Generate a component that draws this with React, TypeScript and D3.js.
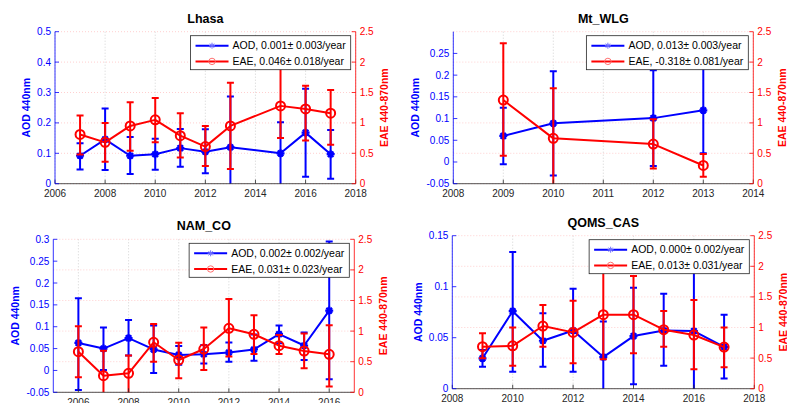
import { useEffect, useRef } from "react";
import * as d3 from "d3";

const FONT = "'Liberation Sans', Arial, Helvetica, sans-serif";
const BLUE = "#0000ff";
const RED = "#ff0000";
const DARK = "#262626";

const eaeTicks = [0, 0.5, 1, 1.5, 2, 2.5];

// Lhasa
const lhasaYears = [2007, 2008, 2009, 2010, 2011, 2012, 2013, 2015, 2016, 2017];
const lhasaAod = [0.092, 0.146, 0.092, 0.097, 0.117, 0.105, 0.12, 0.1, 0.168, 0.097];
const lhasaAodLo = [0.047, 0.045, 0.032, 0.046, 0.056, 0.034, -0.05, -0.005, 0.023, 0.016];
const lhasaAodHi = [0.133, 0.247, 0.154, 0.148, 0.18, 0.179, 0.287, 0.202, 0.312, 0.177];
const lhasaEae = [0.81, 0.68, 0.95, 1.05, 0.79, 0.61, 0.95, 1.28, 1.23, 1.16];
const lhasaEaeLo = [0.48, 0.36, 0.54, 0.68, 0.43, 0.29, 0.24, 0.75, 0.71, 0.64];
const lhasaEaeHi = [1.12, 1.0, 1.34, 1.41, 1.16, 0.95, 1.66, 1.95, 1.61, 1.54];
const lhasaXTicks = [2006, 2008, 2010, 2012, 2014, 2016, 2018];
const lhasaAodTicks = [0, 0.1, 0.2, 0.3, 0.4, 0.5];
const lhasaLegend = ["AOD, 0.001\u00b1 0.003/year", "EAE, 0.046\u00b1 0.018/year"];

// Mt_WLG
const wlgYears = [2009, 2010, 2012, 2013];
const wlgAod = [0.06, 0.089, 0.101, 0.119];
const wlgAodLo = [-0.005, -0.031, -0.009, 0.02];
const wlgAodHi = [0.125, 0.209, 0.211, 0.23];
const wlgEae = [1.376, 0.746, 0.652, 0.3];
const wlgEaeLo = [0.46, -0.1, 0.25, 0.115];
const wlgEaeHi = [2.31, 1.57, 1.06, 0.49];
const wlgXTicks = [2008, 2009, 2010, 2011, 2012, 2013, 2014];
const wlgAodTicks = [-0.05, 0, 0.05, 0.1, 0.15, 0.2, 0.25];
const wlgLegend = ["AOD, 0.013\u00b1 0.003/year", "EAE, -0.318\u00b1 0.081/year"];

// NAM_CO
const namYears = [2006, 2007, 2008, 2009, 2010, 2011, 2012, 2013, 2014, 2015, 2016];
const namAod = [0.063, 0.05, 0.074, 0.048, 0.0355, 0.037, 0.041, 0.048, 0.083, 0.057, 0.137];
const namAodLo = [-0.045, 0.001, 0.034, -0.006, 0.013, 0.016, 0.02, 0.022, 0.062, 0.024, -0.02];
const namAodHi = [0.165, 0.098, 0.1155, 0.103, 0.056, 0.058, 0.064, 0.082, 0.103, 0.087, 0.295];
const namEae = [0.664, 0.272, 0.31, 0.817, 0.528, 0.707, 1.046, 0.948, 0.762, 0.675, 0.62];
const namEaeLo = [0.245, -0.15, -0.02, 0.5, 0.229, 0.364, 0.583, 0.626, 0.626, 0.392, 0.093];
const namEaeHi = [1.078, 0.68, 0.6, 1.116, 0.81, 1.06, 1.525, 1.258, 0.937, 0.959, 1.095];
const namXTicks = [2006, 2008, 2010, 2012, 2014, 2016];
const namAodTicks = [-0.05, 0, 0.05, 0.1, 0.15, 0.2, 0.25, 0.3];
const namLegend = ["AOD, 0.002\u00b1 0.002/year", "EAE, 0.031\u00b1 0.023/year"];

// QOMS_CAS
const qomsYears = [2009, 2010, 2011, 2012, 2013, 2014, 2015, 2016, 2017];
const qomsAod = [0.0298, 0.076, 0.047, 0.057, 0.031, 0.0516, 0.057, 0.0565, 0.041];
const qomsAodLo = [0.0216, 0.0167, 0.0216, 0.0167, -0.004, 0.0043, 0.0225, -0.005, 0.0101];
const qomsAodHi = [0.038, 0.134, 0.074, 0.098, 0.066, 0.099, 0.093, 0.125, 0.0725];
const qomsEae = [0.686, 0.7, 1.024, 0.92, 1.21, 1.21, 0.964, 0.877, 0.68];
const qomsEaeLo = [0.497, 0.376, 0.686, 0.414, 0.48, 0.58, 0.686, 0.316, 0.35];
const qomsEaeHi = [0.905, 1.0, 1.367, 1.438, 1.95, 1.84, 1.27, 1.45, 1.0];
const qomsXTicks = [2008, 2010, 2012, 2014, 2016, 2018];
const qomsAodTicks = [0, 0.05, 0.1, 0.15];
const qomsLegend = ["AOD, 0.000\u00b1 0.002/year", "EAE, 0.013\u00b1 0.031/year"];

// where each axes box sits on the page
const boxes = [
  { left: 55, right: 355.7, top: 31.7, bottom: 183.7 },
  { left: 453.3, right: 753.3, top: 31.7, bottom: 183.7 },
  { left: 53.3, right: 354.3, top: 239.3, bottom: 392.3 },
  { left: 452.3, right: 754.3, top: 235.7, bottom: 388.7 },
];

const panels = [
  {
    title: "Lhasa", years: lhasaYears, aod: lhasaAod, aodLo: lhasaAodLo, aodHi: lhasaAodHi,
    eae: lhasaEae, eaeLo: lhasaEaeLo, eaeHi: lhasaEaeHi, xDomain: [2006, 2018],
    xTicks: lhasaXTicks, aodDomain: [0, 0.5], aodTicks: lhasaAodTicks, legend: lhasaLegend,
  },
  {
    title: "Mt_WLG", years: wlgYears, aod: wlgAod, aodLo: wlgAodLo, aodHi: wlgAodHi,
    eae: wlgEae, eaeLo: wlgEaeLo, eaeHi: wlgEaeHi, xDomain: [2008, 2014],
    xTicks: wlgXTicks, aodDomain: [-0.05, 0.3], aodTicks: wlgAodTicks, legend: wlgLegend,
  },
  {
    title: "NAM_CO", years: namYears, aod: namAod, aodLo: namAodLo, aodHi: namAodHi,
    eae: namEae, eaeLo: namEaeLo, eaeHi: namEaeHi, xDomain: [2005, 2017],
    xTicks: namXTicks, aodDomain: [-0.05, 0.3], aodTicks: namAodTicks, legend: namLegend,
  },
  {
    title: "QOMS_CAS", years: qomsYears, aod: qomsAod, aodLo: qomsAodLo, aodHi: qomsAodHi,
    eae: qomsEae, eaeLo: qomsEaeLo, eaeHi: qomsEaeHi, xDomain: [2008, 2018],
    xTicks: qomsXTicks, aodDomain: [0, 0.15], aodTicks: qomsAodTicks, legend: qomsLegend,
  },
];

const starPath = (s: number) => {
  const d = s * 0.7;
  return `M${-s},0L${s},0M0,${-s}L0,${s}M${-d},${-d}L${d},${d}M${-d},${d}L${d},${-d}`;
};

function drawSeries(g, years, vals, lo, hi, x, y, color, marker) {
  const line = d3
    .line<number>()
    .x((d, i) => x(years[i]))
    .y((d) => y(d));
  g.append("path")
    .attr("d", line(vals))
    .attr("fill", "none")
    .attr("stroke", color)
    .attr("stroke-width", 2)
    .attr("stroke-linejoin", "round");

  const bars = g.append("g").attr("stroke", color).attr("stroke-width", 2);
  years.forEach((yr, i) => {
    const cx = x(yr);
    bars.append("line").attr("x1", cx).attr("x2", cx).attr("y1", y(lo[i])).attr("y2", y(hi[i]));
    [lo[i], hi[i]].forEach((v) => {
      bars.append("line").attr("x1", cx - 3.5).attr("x2", cx + 3.5).attr("y1", y(v)).attr("y2", y(v));
    });
  });

  years.forEach((yr, i) => {
    const cx = x(yr);
    const cy = y(vals[i]);
    if (marker === "star") {
      g.append("path")
        .attr("d", starPath(4))
        .attr("transform", `translate(${cx},${cy})`)
        .attr("stroke", color)
        .attr("stroke-width", 2.2)
        .attr("fill", "none");
    } else {
      g.append("circle")
        .attr("cx", cx)
        .attr("cy", cy)
        .attr("r", 4.5)
        .attr("fill", "none")
        .attr("stroke", color)
        .attr("stroke-width", 2);
    }
  });
}

function drawPanel(svg, p, b, idx) {
  const g = svg.append("g").attr("font-family", FONT);
  const x = d3.scaleLinear().domain(p.xDomain).range([b.left, b.right]);
  const yA = d3.scaleLinear().domain(p.aodDomain).range([b.bottom, b.top]);
  const yE = d3.scaleLinear().domain([0, 2.5]).range([b.bottom, b.top]);

  // grid
  g.append("g")
    .selectAll("line")
    .data(p.xTicks)
    .join("line")
    .attr("x1", (d) => x(d))
    .attr("x2", (d) => x(d))
    .attr("y1", b.top)
    .attr("y2", b.bottom)
    .attr("stroke", "#c8c8c8")
    .attr("stroke-width", 0.8)
    .attr("stroke-dasharray", "1,2");
  g.append("g")
    .selectAll("line")
    .data(eaeTicks)
    .join("line")
    .attr("x1", b.left)
    .attr("x2", b.right)
    .attr("y1", (d) => yE(d))
    .attr("y2", (d) => yE(d))
    .attr("stroke", "#ffc4c4")
    .attr("stroke-width", 0.8)
    .attr("stroke-dasharray", "1,2");

  // data, clipped to the axes box
  const clipId = `clip-${idx}`;
  svg.append("defs")
    .append("clipPath")
    .attr("id", clipId)
    .append("rect")
    .attr("x", b.left)
    .attr("y", b.top)
    .attr("width", b.right - b.left)
    .attr("height", b.bottom - b.top);
  const plot = g.append("g").attr("clip-path", `url(#${clipId})`);
  drawSeries(plot, p.years, p.aod, p.aodLo, p.aodHi, x, yA, BLUE, "star");
  drawSeries(plot, p.years, p.eae, p.eaeLo, p.eaeHi, x, yE, RED, "circle");

  // bottom axis
  g.append("line")
    .attr("x1", b.left).attr("x2", b.right)
    .attr("y1", b.bottom).attr("y2", b.bottom)
    .attr("stroke", DARK).attr("stroke-width", 0.8);
  p.xTicks.forEach((t) => {
    g.append("line")
      .attr("x1", x(t)).attr("x2", x(t))
      .attr("y1", b.bottom).attr("y2", b.bottom - 4)
      .attr("stroke", DARK).attr("stroke-width", 0.8);
    g.append("text")
      .attr("x", x(t))
      .attr("y", b.bottom + 13.3)
      .attr("text-anchor", "middle")
      .attr("font-size", 10)
      .attr("fill", DARK)
      .text(String(t));
  });

  // left axis (AOD)
  g.append("line")
    .attr("x1", b.left).attr("x2", b.left)
    .attr("y1", b.top).attr("y2", b.bottom)
    .attr("stroke", BLUE).attr("stroke-width", 0.8);
  let leftW = 0;
  p.aodTicks.forEach((t) => {
    g.append("line")
      .attr("x1", b.left).attr("x2", b.left + 4)
      .attr("y1", yA(t)).attr("y2", yA(t))
      .attr("stroke", BLUE).attr("stroke-width", 0.8);
    const tx = g.append("text")
      .attr("x", b.left - 4)
      .attr("y", yA(t))
      .attr("dy", "0.35em")
      .attr("text-anchor", "end")
      .attr("font-size", 10)
      .attr("fill", BLUE)
      .text(String(t));
    leftW = Math.max(leftW, (tx.node() as SVGTextElement).getComputedTextLength());
  });

  // right axis (EAE)
  g.append("line")
    .attr("x1", b.right).attr("x2", b.right)
    .attr("y1", b.top).attr("y2", b.bottom)
    .attr("stroke", RED).attr("stroke-width", 0.8);
  let rightW = 0;
  eaeTicks.forEach((t) => {
    g.append("line")
      .attr("x1", b.right).attr("x2", b.right - 4)
      .attr("y1", yE(t)).attr("y2", yE(t))
      .attr("stroke", RED).attr("stroke-width", 0.8);
    const tx = g.append("text")
      .attr("x", b.right + 4)
      .attr("y", yE(t))
      .attr("dy", "0.35em")
      .attr("font-size", 10)
      .attr("fill", RED)
      .text(String(t));
    rightW = Math.max(rightW, (tx.node() as SVGTextElement).getComputedTextLength());
  });

  const midY = (b.top + b.bottom) / 2;
  g.append("text")
    .attr("transform", `translate(${b.left - leftW - 15},${midY}) rotate(-90)`)
    .attr("text-anchor", "middle")
    .attr("dy", "0.35em")
    .attr("font-size", 10.5)
    .attr("font-weight", "bold")
    .attr("fill", BLUE)
    .text("AOD 440nm");
  g.append("text")
    .attr("transform", `translate(${b.right + rightW + 15},${midY}) rotate(-90)`)
    .attr("text-anchor", "middle")
    .attr("dy", "0.35em")
    .attr("font-size", 10.5)
    .attr("font-weight", "bold")
    .attr("fill", RED)
    .text("EAE 440-870nm");

  // title
  g.append("text")
    .attr("x", (b.left + b.right) / 2)
    .attr("y", b.top - 9)
    .attr("text-anchor", "middle")
    .attr("font-size", 12.5)
    .attr("font-weight", "bold")
    .attr("fill", "#000")
    .text(p.title);

  // legend
  const lg = g.append("g");
  const frame = lg.append("rect")
    .attr("fill", "#fff")
    .attr("stroke", DARK)
    .attr("stroke-width", 0.8);
  const colors = [BLUE, RED];
  let textW = 0;
  p.legend.forEach((label, i) => {
    const ry = 10 + i * 15.7;
    const t = lg.append("text")
      .attr("x", 42)
      .attr("y", ry)
      .attr("dy", "0.35em")
      .attr("font-size", 10.5)
      .attr("fill", "#000")
      .text(label);
    textW = Math.max(textW, (t.node() as SVGTextElement).getComputedTextLength());
    lg.append("line")
      .attr("x1", 5).attr("x2", 38)
      .attr("y1", ry).attr("y2", ry)
      .attr("stroke", colors[i]).attr("stroke-width", 2);
    if (i === 0) {
      lg.append("path")
        .attr("d", starPath(3))
        .attr("transform", `translate(21.5,${ry})`)
        .attr("stroke", "#6f6fff")
        .attr("stroke-width", 1)
        .attr("fill", "none");
    } else {
      lg.append("circle")
        .attr("cx", 21.5).attr("cy", ry).attr("r", 3.2)
        .attr("fill", "none").attr("stroke", "#ff7070").attr("stroke-width", 1);
    }
  });
  const w = 42 + textW + 5;
  frame.attr("width", w).attr("height", 34);
  lg.attr("transform", `translate(${b.right - 5 - w},${b.top + 4})`);
}

export default function App() {
  const svgElem = useRef<SVGSVGElement>(null);

  useEffect(() => {
    const svg = d3.select(svgElem.current);
    svg.selectAll("*").remove();
    panels.forEach((p, i) => drawPanel(svg, p, boxes[i], i));
  }, []);

  return (
    <svg
      ref={svgElem}
      width={787}
      height={403}
      style={{ position: "absolute", left: 0, top: 0, background: "#fff" }}
    />
  );
}
